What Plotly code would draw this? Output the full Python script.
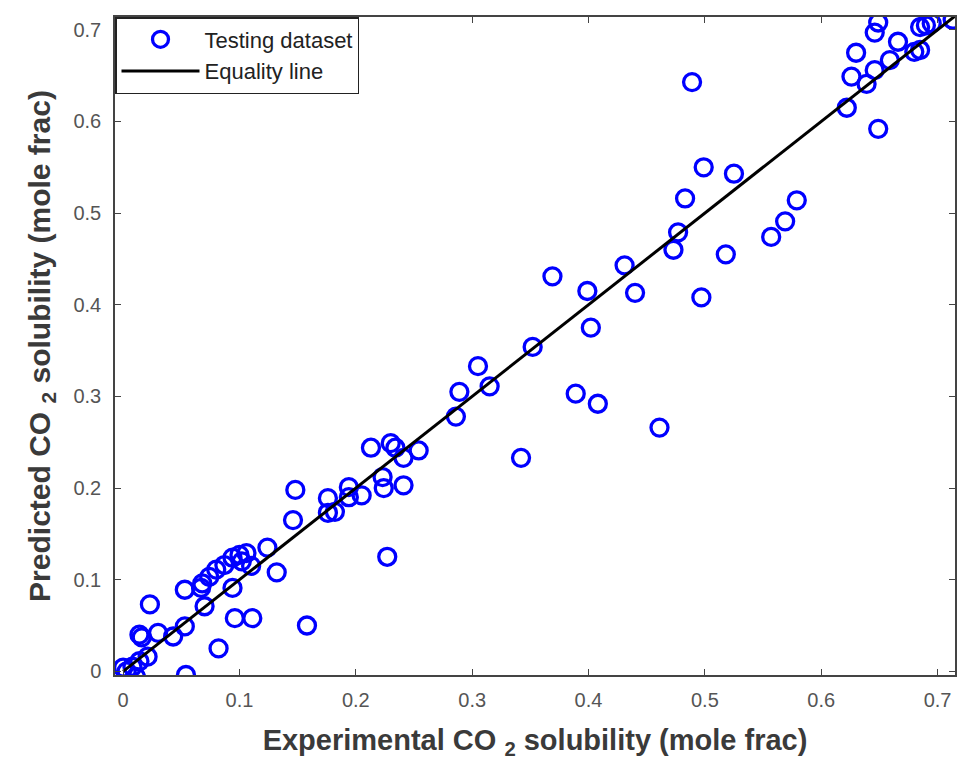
import plotly.graph_objects as go

# Experimental vs predicted CO2 solubility (mole fraction), testing dataset
experimental = [
    0.649, 0.646, 0.630, 0.626, 0.639, 0.646, 0.666, 0.659, 0.680, 0.685,
    0.685, 0.690, 0.695, 0.713, 0.622, 0.649, 0.489,
    0.499, 0.525, 0.483, 0.477, 0.473, 0.431, 0.369, 0.399, 0.440, 0.497,
    0.518, 0.557, 0.569, 0.579,
    0.402, 0.352, 0.305, 0.315, 0.289, 0.286, 0.389, 0.408, 0.461, 0.342,
    0.213, 0.230, 0.234, 0.241, 0.254, 0.223, 0.224, 0.241, 0.176, 0.194,
    0.194, 0.205, 0.176, 0.182, 0.227,
    0.148, 0.146,
    0.124, 0.106, 0.100, 0.094, 0.087, 0.080, 0.074, 0.068, 0.094, 0.067,
    0.070, 0.053, 0.023, 0.132, 0.053, 0.043, 0.030, 0.014, 0.016, 0.096,
    0.111, 0.158, 0.082, 0.021, 0.014, 0.008, 0.000, 0.003, 0.011, 0.054,
    0.102, 0.110,
]
predicted = [
    0.708, 0.697, 0.675, 0.649, 0.641, 0.656, 0.687, 0.667, 0.676, 0.678,
    0.703, 0.705, 0.707, 0.711, 0.615, 0.592, 0.643,
    0.550, 0.543, 0.516, 0.479, 0.460, 0.443, 0.431, 0.415, 0.413, 0.408,
    0.455, 0.474, 0.491, 0.514,
    0.375, 0.354, 0.333, 0.311, 0.305, 0.278, 0.303, 0.292, 0.266, 0.233,
    0.244, 0.249, 0.244, 0.233, 0.241, 0.212, 0.200, 0.203, 0.189, 0.201,
    0.190, 0.192, 0.173, 0.174, 0.125,
    0.198, 0.165,
    0.135, 0.129, 0.127, 0.124, 0.116, 0.111, 0.103, 0.096, 0.091, 0.091,
    0.071, 0.089, 0.073, 0.108, 0.049, 0.038, 0.042, 0.040, 0.037, 0.058,
    0.058, 0.050, 0.025, 0.016, 0.011, 0.005, 0.004, 0.000, -0.006, -0.004,
    0.120, 0.115,
]
equality = [0.0, 0.715]
tick_vals = [0, 0.1, 0.2, 0.3, 0.4, 0.5, 0.6, 0.7]
tick_text = ["0", "0.1", "0.2", "0.3", "0.4", "0.5", "0.6", "0.7"]

NARROW = "Liberation Sans Narrow, Arial Narrow, Liberation Sans"

fig = go.Figure()
fig.add_trace(go.Scatter(
    x=experimental, y=predicted, mode="markers", name="Testing dataset",
    marker=dict(symbol="circle-open", size=17, color="#0000ff",
                line=dict(width=3.3, color="#0000ff")),
))
fig.add_trace(go.Scatter(
    x=equality, y=equality, mode="lines", name="Equality line",
    line=dict(color="black", width=3),
))

axis_common = dict(
    showgrid=False, zeroline=False, showline=True, linecolor="#444",
    linewidth=1.5, mirror="ticks", ticks="inside", ticklen=6,
    tickcolor="#444", tickwidth=1.2, tickvals=tick_vals, ticktext=tick_text,
)

fig.update_layout(
    width=967, height=771,
    margin=dict(l=115, r=10, t=17, b=96),
    paper_bgcolor="white", plot_bgcolor="white",
    showlegend=True,
    legend=dict(
        x=0, y=1, xanchor="left", yanchor="top",
        bordercolor="#222", borderwidth=1.5, bgcolor="white",
        font=dict(family="Liberation Sans", size=22, color="#222"),
        tracegroupgap=0, itemwidth=78,
    ),
    xaxis=dict(
        range=[-0.007, 0.715],
        tickfont=dict(family=NARROW, size=20, color="#555"),
        ticklabelstandoff=6,
        title=dict(text="<b>Experimental CO <sub>2</sub> solubility (mole frac)</b>",
                   font=dict(family=NARROW, size=29, color="#3a3a3a"),
                   standoff=20),
        **axis_common,
    ),
    yaxis=dict(
        range=[-0.004, 0.714],
        tickfont=dict(family="Liberation Sans", size=20, color="#555"),
        ticklabelstandoff=8,
        title=dict(text="<b>Predicted CO <sub>2</sub> solubility (mole frac)</b>",
                   font=dict(family=NARROW, size=30, color="#3a3a3a"),
                   standoff=14),
        **axis_common,
    ),
)

fig.write_html("out.html")
